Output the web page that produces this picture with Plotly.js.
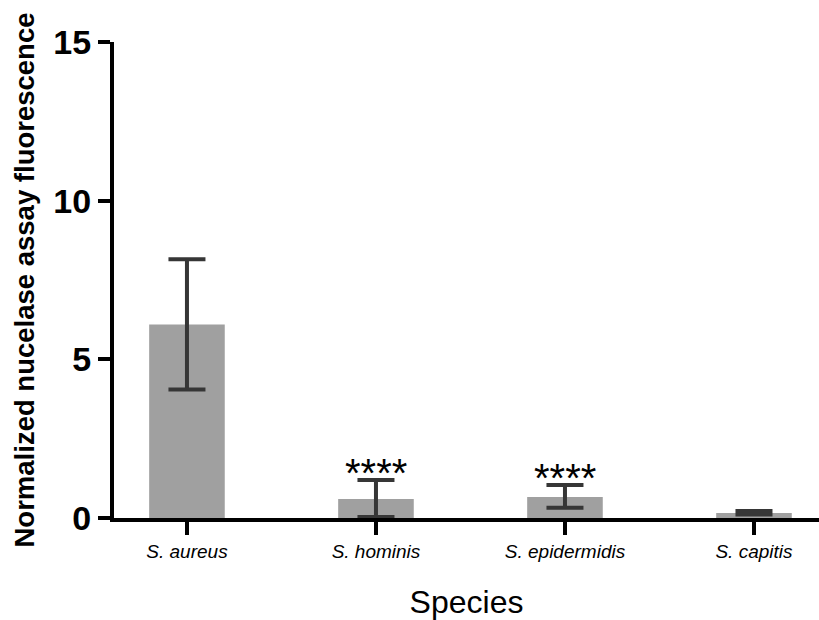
<!DOCTYPE html>
<html>
<head>
<meta charset="utf-8">
<script src="https://cdn.plot.ly/plotly-3.0.1.min.js"></script>
<style>html,body{margin:0;padding:0;background:#fff;}#chart{width:819px;height:620px;}</style>
</head>
<body>
<div id="chart"></div>
<script>
const species = ["S. aureus", "S. hominis", "S. epidermidis", "S. capitis"];
const means = [6.1, 0.6, 0.66, 0.16];
const errPlus = [2.05, 0.6, 0.38, 0.06];
const errMinus = [2.05, 0.57, 0.34, 0.05];
const significance = ["", "****", "****", ""];
const yTicks = [0, 5, 10, 15];

const trace = {
  type: 'bar',
  x: species,
  y: means,
  width: 0.4,
  marker: {color: '#a0a0a0', line: {width: 0}},
  error_y: {
    type: 'data',
    symmetric: false,
    array: errPlus,
    arrayminus: errMinus,
    color: '#363636',
    thickness: 4,
    width: 18.5
  },
  hoverinfo: 'none'
};

const annotations = [];
species.forEach((s, i) => {
  if (significance[i]) {
    annotations.push({
      x: s, y: means[i] + errPlus[i], xref: 'x', yref: 'y',
      text: significance[i], showarrow: false,
      yanchor: 'middle', yshift: 7,
      font: {family: 'Arial, Liberation Sans, sans-serif', size: 40, color: '#000'}
    });
  }
});

const layout = {
  width: 819, height: 620,
  margin: {l: 114, r: 0, t: 42, b: 102},
  paper_bgcolor: '#fff', plot_bgcolor: '#fff',
  showlegend: false,
  font: {family: 'Arial, Liberation Sans, sans-serif', color: '#000'},
  xaxis: {
    type: 'category',
    range: [-0.386, 3.344],
    showline: true, linecolor: '#000', linewidth: 4,
    ticks: 'outside', ticklen: 13, tickwidth: 4, tickcolor: '#000',
    showgrid: false, zeroline: false,
    tickfont: {family: 'Arial, Liberation Sans, sans-serif', size: 19, style: 'italic', color: '#000'},
    title: {text: 'Species', font: {family: 'Arial, Liberation Sans, sans-serif', size: 32, color: '#000'}, standoff: 32}
  },
  yaxis: {
    range: [0, 15],
    tickvals: yTicks,
    showline: true, linecolor: '#000', linewidth: 4,
    ticks: 'outside', ticklen: 12, tickwidth: 4, tickcolor: '#000',
    showgrid: false, zeroline: false,
    tickfont: {family: 'Arial, Liberation Sans, sans-serif', size: 34, weight: 'bold', color: '#000'},
    title: {text: '<b>Normalized nucelase assay fluorescence</b>', font: {family: 'Arial, Liberation Sans, sans-serif', size: 27.5, color: '#000'}, standoff: 12}
  },
  annotations: annotations
};

Plotly.newPlot('chart', [trace], layout, {displayModeBar: false, staticPlot: true});
</script>
</body>
</html>
